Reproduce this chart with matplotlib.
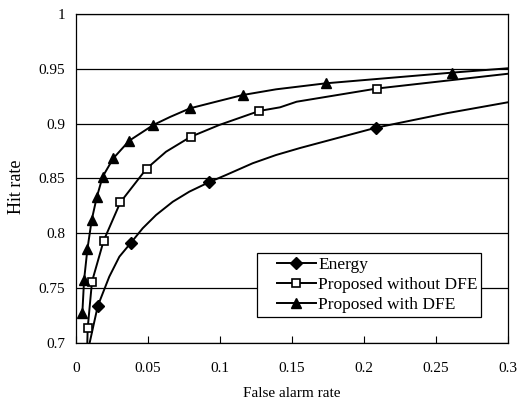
import numpy as np
import matplotlib
matplotlib.use('Agg')
from matplotlib import pyplot as plt
from matplotlib.patches import Rectangle

plt.rcParams['font.family'] = ['Liberation Serif', 'DejaVu Serif']

# Energy detector: curve points and the points that carry a marker
energy_x = [0.0091, 0.0151, 0.0231, 0.0301, 0.0382, 0.0463, 0.0556, 0.0672, 0.0787, 0.0922,
            0.1042, 0.1227, 0.1389, 0.1556, 0.1764, 0.2083, 0.2574, 0.30]
energy_y = [0.698, 0.7337, 0.7605, 0.7787, 0.7915, 0.8046, 0.8167, 0.8288, 0.838, 0.8465,
            0.8532, 0.8639, 0.8714, 0.8778, 0.8851, 0.8963, 0.9095, 0.9195]
energy_mx = [0.0151, 0.0382, 0.0922, 0.2083]
energy_my = [0.7337, 0.7915, 0.8465, 0.8963]

# Proposed without DFE
nodfe_x = [0.0078, 0.0081, 0.0111, 0.0192, 0.0308, 0.049, 0.0625, 0.0796, 0.0995, 0.1273,
           0.1417, 0.1532, 0.2088, 0.30]
nodfe_y = [0.698, 0.7134, 0.756, 0.7933, 0.8283, 0.859, 0.8744, 0.888, 0.8988, 0.9116,
           0.9149, 0.92, 0.932, 0.9455]
nodfe_mx = [0.0081, 0.0111, 0.0192, 0.0308, 0.049, 0.0796, 0.1273, 0.2088]
nodfe_my = [0.7134, 0.756, 0.7933, 0.8283, 0.859, 0.888, 0.9116, 0.932]

# Proposed with DFE
dfe_x = [0.0044, 0.0056, 0.0079, 0.0109, 0.0144, 0.0185, 0.0259, 0.037, 0.0537, 0.0653,
         0.0792, 0.0972, 0.1157, 0.1389, 0.1736, 0.2609, 0.30]
dfe_y = [0.7276, 0.7575, 0.7855, 0.8122, 0.8329, 0.8517, 0.8684, 0.8845, 0.8988, 0.9061,
         0.914, 0.92, 0.9261, 0.9313, 0.9368, 0.9465, 0.9505]
dfe_mx = [0.0044, 0.0056, 0.0079, 0.0109, 0.0144, 0.0185, 0.0259, 0.037, 0.0537, 0.0792,
          0.1157, 0.1736, 0.2609]
dfe_my = [0.7276, 0.7575, 0.7855, 0.8122, 0.8329, 0.8517, 0.8684, 0.8845, 0.8988, 0.914,
          0.9261, 0.9368, 0.9465]

labels = ['Energy', 'Proposed without DFE', 'Proposed with DFE']

fig = plt.figure(figsize=(5.25, 4.03), dpi=100)
ax = fig.add_axes([0.1448, 0.1489, 0.8228, 0.8164])

lw = 1.4
d_style = dict(marker='D', mfc='black', mec='black', ms=6.5)
s_style = dict(marker='s', mfc='white', mec='black', mew=1.2, ms=5.8)
t_style = dict(marker='^', mfc='black', mec='black', ms=6.8)

ax.plot(energy_x, energy_y, color='black', lw=lw, zorder=3)
ax.plot(energy_mx, energy_my, ls='none', zorder=4, **d_style)
ax.plot(nodfe_x, nodfe_y, color='black', lw=lw, zorder=3)
ax.plot(nodfe_mx, nodfe_my, ls='none', zorder=4, **s_style)
ax.plot(dfe_x, dfe_y, color='black', lw=lw, zorder=3)
ax.plot(dfe_mx, dfe_my, ls='none', zorder=4, **t_style)

# legend: frame drawn separately so the padding can match
ax.add_patch(Rectangle((0.4197, 0.0781), 0.5171, 0.1964, transform=ax.transAxes,
                       facecolor='white', edgecolor='black', lw=0.9, zorder=5))
h1, = ax.plot([], [], color='black', lw=lw, **d_style)
h2, = ax.plot([], [], color='black', lw=lw, **s_style)
h3, = ax.plot([], [], color='black', lw=lw, **t_style)
leg = ax.legend([h1, h2, h3], labels, loc='upper left', bbox_to_anchor=(0.4646, 0.2604),
                fontsize=12.5, frameon=False, handlelength=2.25, handletextpad=0.15,
                borderpad=0, labelspacing=0.2, borderaxespad=0)
leg.set_zorder(6)

ax.set_xlim(0, 0.3)
ax.set_ylim(0.7, 1.0)
ax.set_xticks([0, 0.05, 0.1, 0.15, 0.2, 0.25, 0.3])
ax.set_xticklabels(['0', '0.05', '0.1', '0.15', '0.2', '0.25', '0.3'])
ax.set_yticks([0.7, 0.75, 0.8, 0.85, 0.9, 0.95, 1.0])
ax.set_yticklabels(['0.7', '0.75', '0.8', '0.85', '0.9', '0.95', '1'])
ax.tick_params(axis='x', direction='in', length=5, width=0.8, labelsize=11, pad=14)
ax.tick_params(axis='y', length=0, labelsize=11, pad=8)
ax.yaxis.grid(True, color='black', lw=0.9)
ax.set_axisbelow(True)
for s in ax.spines.values():
    s.set_color('black')
    s.set_linewidth(0.9)

ax.set_xlabel('False alarm rate', fontsize=11, labelpad=8)
ax.set_ylabel('Hit rate', fontsize=13)
ax.yaxis.set_label_coords(-0.118, 0.476)

fig.savefig('out.png', dpi=100)
